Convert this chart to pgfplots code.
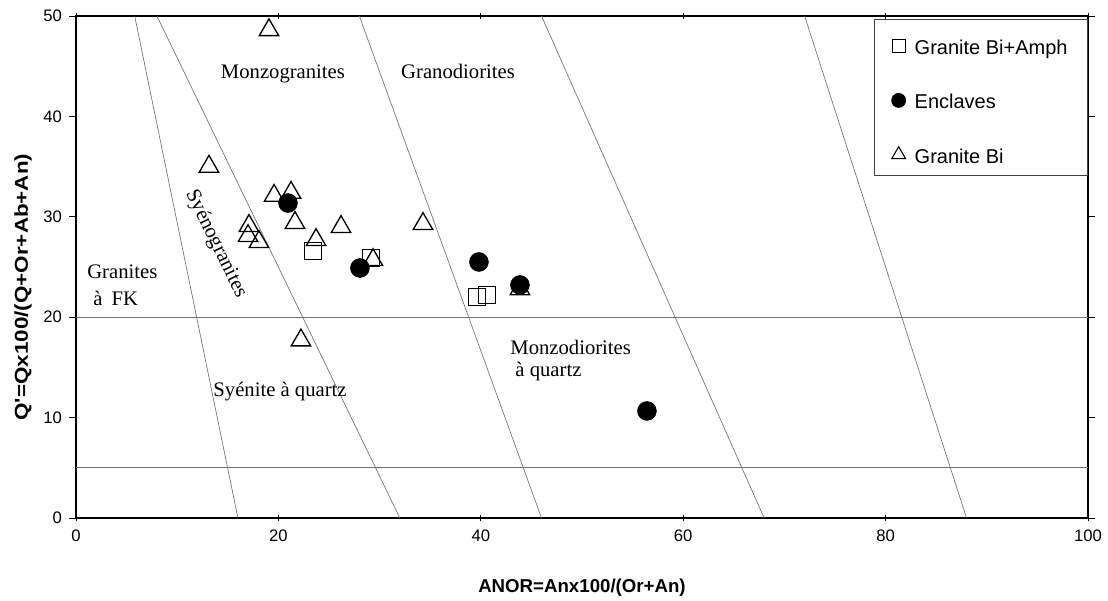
\documentclass[border=0pt]{standalone}
\usepackage{fontspec}
\setmainfont{Liberation Serif}
\newfontfamily\arial{Liberation Sans}
\usepackage{graphicx}
\usepackage{pgfplots}
\pgfplotsset{compat=1.18}

\definecolor{zone}{gray}{0.45}
\newcommand\tickfont{\arial\fontsize{12.5}{14}\selectfont}
\newcommand\labelfont{\arial\bfseries\fontsize{14}{16}\selectfont}
\newcommand\legfont{\arial\fontsize{15}{18}\selectfont}
\newcommand\fieldfont{\fontsize{15.5}{18}\selectfont}

\begin{document}
\begin{tikzpicture}
\begin{axis}[
  scale only axis, width=759pt, height=376.5pt,
  xmin=0, xmax=100, ymin=0, ymax=50,
  clip=false,
  xtick={0,20,...,100}, ytick={0,10,...,50},
  axis line style={line width=0.9pt},
  tick style={black, line width=0.5pt},
  xtick align=center, ytick align=outside,
  major tick length=5pt,
  /pgf/number format/assume math mode=true,
  every tick label/.append style={font=\tickfont},
  yticklabel style={font=\tickfont, xshift=-2pt},
  xticklabel style={font=\tickfont, yshift=-3pt},
  xlabel={ANOR=Anx100/(Or+An)},
  xlabel style={font=\labelfont,
    at={(axis description cs:0.5,-0.138)}, anchor=center},
  ylabel={\scalebox{1.2}[1]{Q\textquotesingle=Qx100/(Q+Or+Ab+An)}},
  ylabel style={font=\labelfont,
    at={(axis description cs:-0.0524,0.46)}, anchor=center},
  legend cell align=left,
  legend image code/.code={\draw[#1, yshift=-2.2pt] plot coordinates {(0pt,0pt)};},
  legend style={at={(1,1)}, anchor=north east, yshift=-2pt,
    draw=black!75, line width=0.6pt,
    font=\legfont,
    nodes={text height=17pt, text depth=0pt},
    inner xsep=13pt, inner ysep=7.6pt, row sep=19.7pt,
    /tikz/every odd column/.append style={column sep=4.8pt}},
]
% bounding box of the whole figure
\path (rel axis cs:-0.0751,-0.1614) rectangle (rel axis cs:1.0198,1.0319);

% field boundaries
\addplot[zone, line width=0.5pt, forget plot] coordinates {(0,20)(100,20)};
\addplot[zone, line width=0.5pt, forget plot] coordinates {(0,5)(100,5)};
\addplot[zone, line width=0.5pt, forget plot] coordinates {(16,0)(5.8,50)};
\addplot[zone, line width=0.5pt, forget plot] coordinates {(32,0)(8,50)};
\addplot[zone, line width=0.5pt, forget plot] coordinates {(46,0)(28,50)};
\addplot[zone, line width=0.5pt, forget plot] coordinates {(68,0)(46,50)};
\addplot[zone, line width=0.5pt, forget plot] coordinates {(88,0)(72,50)};

% field names
\begin{scope}[font=\fieldfont, inner sep=0pt]
\node[anchor=base] at (axis cs:20.45,43.73) {Monzogranites};
\node[anchor=base] at (axis cs:37.75,43.8) {Granodiorites};
\node[anchor=base west] at (axis cs:1.09,23.9) {Granites};
\node[anchor=base west] at (axis cs:1.68,21.2) {à\hspace{0.45em}FK};
\node[rotate=-64] at (axis cs:13.83,27.3) {Syénogranites};
\node[anchor=base] at (axis cs:20.16,12.15) {Syénite à quartz};
\node[anchor=base west] at (axis cs:42.9,16.24) {Monzodiorites};
\node[anchor=base west] at (axis cs:43.4,14.14) {à quartz};
\end{scope}

% Granite Bi+Amph
\addplot[only marks, mark=square, mark size=6.5pt, mark options={black, line width=1pt}, forget plot]
  coordinates {(23.42,26.59)(29.15,25.90)(39.62,22.01)(40.61,22.21)};
% Granite Bi
\addplot[only marks, mark=triangle, mark size=8.4pt, mark options={black, line width=1pt}, forget plot]
  coordinates {(19.07,48.6)(13.14,35.0)(19.57,32.1)(21.25,32.4)(21.64,29.4)
    (17.09,29.1)(17.0,28.1)(18.08,27.5)(23.72,27.7)(26.19,29.0)(34.29,29.3)
    (29.35,25.7)(43.87,22.8)(22.23,17.7)};
% Enclaves
\addplot[only marks, mark=*, mark size=7.1pt, mark options={black, fill=black}, forget plot]
  coordinates {(20.95,31.37)(28.06,24.90)(39.82,25.50)(43.87,23.21)(56.42,10.66)};

\addlegendimage{only marks, mark=square, mark size=4.8pt, mark options={black, line width=0.8pt}}
\addlegendentry{Granite Bi+Amph}
\addlegendimage{only marks, mark=*, mark size=5.25pt, mark options={black, fill=black}}
\addlegendentry{Enclaves}
\addlegendimage{only marks, mark=triangle, mark size=6pt, mark options={black, line width=0.8pt}}
\addlegendentry{Granite Bi}
\end{axis}
\end{tikzpicture}
\end{document}
